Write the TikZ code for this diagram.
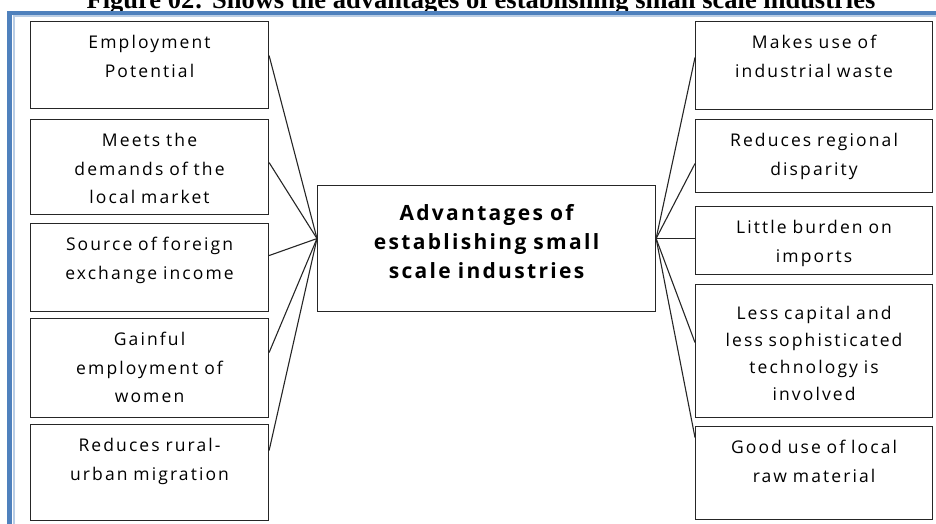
\documentclass[tikz,border=0pt]{standalone}
\usepackage{fontspec}
\setmainfont{Liberation Serif}
\newfontfamily\itemfont[LetterSpace=12]{Open Sans}
\newfontfamily\advfont[LetterSpace=11]{Open Sans}
\definecolor{frameblue}{HTML}{4F81BD}
\definecolor{framelight}{HTML}{B9CDE5}
\begin{document}
\begin{tikzpicture}[x=1pt,y=-1pt,
  item/.style={draw=black!85, line width=1.1pt, anchor=north west, align=center, inner xsep=4pt, inner ysep=0pt, text height=27pt, font=\itemfont\fontsize{17.5}{28.5}\selectfont},
  link/.style={draw=black!85, line width=1.1pt}]
\useasboundingbox (0,0) rectangle (936,524);
\clip (0,0) rectangle (936,524);
\node [anchor=base, font=\bfseries\fontsize{26.5}{30}\selectfont] (title) at (481,9) {Figure 02: Shows the advantages of establishing small scale industries};
\draw [frameblue, line width=4.5pt] (9.5,524) -- (9.5,13) -- (936,13);
\draw [framelight, line width=2pt] (13.5,524) -- (13.5,16.5) -- (936,16.5);
\node [item, text width=230pt, text depth=60pt] (emp) at (30,21) {Employment\\Potential};
\node [item, text width=230pt, text depth=68pt] (mkt) at (30,119) {Meets the\\demands of the\\local market};
\node [item, text width=230pt, text depth=61pt] (forex) at (30,223) {Source of foreign\\exchange income};
\node [item, text width=230pt, text depth=72pt] (women) at (30,318) {Gainful\\employment of\\women};
\node [item, text width=230pt, text depth=69pt] (migr) at (30,424) {Reduces rural-\\urban migration};
\node [item, text width=229pt, text depth=61pt] (waste) at (695,21) {Makes use of\\industrial waste};
\node [item, text width=229pt, text depth=46pt] (region) at (695,119) {Reduces regional\\disparity};
\node [item, text width=229pt, text depth=41pt] (imports) at (695,206) {Little burden on\\imports};
\node [item, text width=229pt, text height=35pt, text depth=98pt, font=\itemfont\fontsize{17.5}{27}\selectfont] (capital) at (695,284) {Less capital and\\less sophisticated\\technology is\\involved};
\node [item, text width=229pt, text depth=66pt] (rawmat) at (695,426) {Good use of local\\raw material};
\node [item, text width=330pt, text height=35pt, text depth=91pt, font=\advfont\bfseries\fontsize{21}{29}\selectfont] (adv) at (317,185) {Advantages of\\establishing small\\scale industries};
\draw [link] ([yshift=9.5pt]emp.east) -- ([yshift=10pt]adv.west);
\draw [link] ([yshift=4.5pt]mkt.east) -- ([yshift=10pt]adv.west);
\draw [link] ([yshift=12pt]forex.east) -- ([yshift=10pt]adv.west);
\draw [link] ([yshift=15.5pt]women.east) -- ([yshift=10pt]adv.west);
\draw [link] ([yshift=22pt]migr.east) -- ([yshift=10pt]adv.west);
\draw [link] ([yshift=10pt]adv.east) -- ([yshift=8pt]waste.west);
\draw [link] ([yshift=10pt]adv.east) -- ([yshift=-7.5pt]region.west);
\draw [link] ([yshift=10pt]adv.east) -- ([yshift=2pt]imports.west);
\draw [link] ([yshift=10pt]adv.east) -- ([yshift=8.5pt]capital.west);
\draw [link] ([yshift=10pt]adv.east) -- ([yshift=35.5pt]rawmat.west);
\end{tikzpicture}
\end{document}
